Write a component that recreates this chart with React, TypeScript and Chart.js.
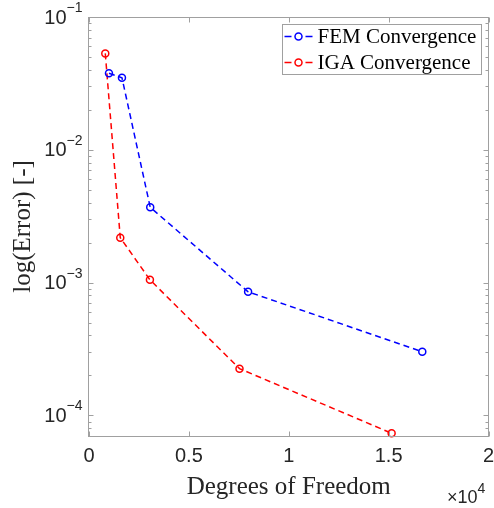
import React, { useEffect, useRef } from 'react';
import { Chart, registerables } from 'chart.js';

Chart.register(...registerables);

// ---- data ----
const seriesNames = ['FEM Convergence', 'IGA Convergence'];
const femDof = [1000, 1650, 3065, 7965, 16685];
const femError = [0.0377, 0.0349, 0.00369, 8.53e-4, 3.02e-4];
const igaDof = [815, 1565, 3050, 7535, 15150];
const igaError = [0.0532, 0.00218, 1.05e-3, 2.25e-4, 7.34e-5];
const xTicks = [0, 5000, 10000, 15000, 20000];
const xScaleFactor = 1e4;
const yMin = 7.34e-5;
const yMax = 0.1;
const yDecades = [-5, -4, -3, -2, -1];

const AXIS_COLOR = '#a0a0a0';
const TEXT_COLOR = '#262626';
const SANS = '"Liberation Sans", Arial, sans-serif';
const SERIF = '"Liberation Serif", "Times New Roman", serif';

const toPoints = (xs: number[], ys: number[]) => xs.map((x, i) => ({ x, y: ys[i] }));

const matlabAxes = {
  id: 'matlabAxes',
  afterDraw(chart: any) {
    const { ctx, chartArea } = chart;
    const { left, right, top, bottom } = chartArea;
    const xs = chart.scales.x;
    const ys = chart.scales.y;
    ctx.save();
    // box
    ctx.strokeStyle = AXIS_COLOR;
    ctx.lineWidth = 1;
    ctx.setLineDash([]);
    const L = Math.round(left) - 0.5;
    const R = Math.round(right) - 0.5;
    const T = Math.round(top) + 0.5;
    const B = Math.round(bottom) + 0.5;
    ctx.strokeRect(L, T, R - L, B - T);
    // ticks (inside, both sides)
    ctx.beginPath();
    ys.ticks.forEach((t: any) => {
      const p = Math.round(ys.getPixelForValue(t.value)) + 0.5;
      const len = t.major ? 5 : 3;
      ctx.moveTo(L, p); ctx.lineTo(L + len, p);
      ctx.moveTo(R, p); ctx.lineTo(R - len, p);
    });
    xs.ticks.forEach((t: any) => {
      const p = Math.round(xs.getPixelForValue(t.value)) + 0.5;
      ctx.moveTo(p, B); ctx.lineTo(p, B - 5);
      ctx.moveTo(p, T); ctx.lineTo(p, T + 5);
    });
    ctx.stroke();

    // y tick labels 10^k
    ctx.fillStyle = TEXT_COLOR;
    ys.ticks.forEach((t: any) => {
      if (!t.major) return;
      const exp = Math.round(Math.log10(t.value));
      const p = ys.getPixelForValue(t.value);
      const sup = String(exp).replace('-', '\u2212');
      ctx.font = `14px ${SANS}`;
      const sw = ctx.measureText(sup).width;
      const xr = L - 6;
      ctx.textAlign = 'left';
      ctx.textBaseline = 'alphabetic';
      ctx.fillText(sup, xr - sw, p - 5);
      ctx.font = `20px ${SANS}`;
      ctx.textAlign = 'right';
      ctx.textBaseline = 'middle';
      ctx.fillText('10', xr - sw, p + 1);
    });

    // x exponent label
    ctx.font = `18px ${SANS}`;
    ctx.textAlign = 'right';
    ctx.textBaseline = 'alphabetic';
    ctx.fillText('\u00d710', R - 11, B + 66);
    ctx.font = `14px ${SANS}`;
    ctx.textAlign = 'left';
    ctx.fillText(String(Math.round(Math.log10(xScaleFactor))), R - 11, B + 56);

    // legend
    const lx = Math.round(right) - 206.5;
    const ly = Math.round(top) + 7.5;
    const lw = 199;
    const lh = 50;
    ctx.fillStyle = '#ffffff';
    ctx.fillRect(lx, ly, lw, lh);
    ctx.strokeStyle = AXIS_COLOR;
    ctx.strokeRect(lx, ly, lw, lh);
    chart.data.datasets.forEach((ds: any, i: number) => {
      const cy = ly + 12 + i * 26;
      const mx = lx + 16;
      ctx.strokeStyle = ds.borderColor;
      ctx.lineWidth = 1.5;
      ctx.beginPath();
      ctx.moveTo(lx + 2, cy); ctx.lineTo(mx - 7, cy);
      ctx.moveTo(mx + 7, cy); ctx.lineTo(mx + 14, cy);
      ctx.stroke();
      ctx.beginPath();
      ctx.arc(mx, cy, 3.5, 0, Math.PI * 2);
      ctx.stroke();
      ctx.fillStyle = '#000000';
      ctx.font = `21px ${SERIF}`;
      ctx.textAlign = 'left';
      ctx.textBaseline = 'middle';
      ctx.fillText(ds.label, lx + 35, cy + 1);
    });
    ctx.restore();
  },
};

export default function App() {
  const ref = useRef<HTMLCanvasElement | null>(null);
  useEffect(() => {
    if (!ref.current) return;
    const common = {
      showLine: true,
      borderWidth: 1.5,
      borderDash: [6, 4],
      pointRadius: 3.5,
      pointBorderWidth: 1.5,
      pointBackgroundColor: 'rgba(0,0,0,0)',
      pointStyle: 'circle',
      tension: 0,
      clip: false as any,
      fill: false,
    };
    const chart = new Chart(ref.current, {
      type: 'line',
      data: {
        datasets: [
          { ...common, label: seriesNames[0], data: toPoints(femDof, femError), borderColor: '#0000ff', pointBorderColor: '#0000ff' },
          { ...common, label: seriesNames[1], data: toPoints(igaDof, igaError), borderColor: '#ff0000', pointBorderColor: '#ff0000' },
        ],
      },
      options: {
        responsive: false,
        animation: false,
        layout: { padding: { top: 17, right: 5, left: 0, bottom: 0 } },
        plugins: { legend: { display: false }, tooltip: { enabled: false } },
        scales: {
          x: {
            type: 'linear',
            min: xTicks[0],
            max: xTicks[xTicks.length - 1],
            grid: { display: false, drawTicks: false },
            border: { display: false },
            afterBuildTicks: (s: any) => { s.ticks = xTicks.map((v) => ({ value: v })); },
            afterFit: (s: any) => { s.height = 72; s.paddingLeft = 0; s.paddingRight = 0; },
            ticks: {
              padding: 8,
              color: TEXT_COLOR,
              font: { family: SANS, size: 20 },
              maxRotation: 0,
              autoSkip: false,
              callback: (v: any) => String(Number(v) / xScaleFactor),
            },
            title: {
              display: true,
              text: 'Degrees of Freedom',
              color: TEXT_COLOR,
              font: { family: SERIF, size: 25 },
              padding: { top: 0, bottom: 6 },
            },
          },
          y: {
            type: 'logarithmic',
            min: yMin,
            max: yMax,
            grid: { display: false, drawTicks: false },
            border: { display: false },
            afterBuildTicks: (s: any) => {
              const t: any[] = [];
              yDecades.forEach((k) => {
                for (let m = 1; m <= 9; m++) {
                  const v = m * Math.pow(10, k);
                  if (v >= yMin * 0.9999 && v <= yMax * 1.0001) t.push({ value: v, major: m === 1 });
                }
              });
              s.ticks = t;
            },
            afterFit: (s: any) => { s.width = 89; s.paddingTop = 0; s.paddingBottom = 0; },
            ticks: { display: false },
            title: {
              display: true,
              text: 'log(Error) [-]',
              color: TEXT_COLOR,
              font: { family: SERIF, size: 25 },
              padding: { top: 8, bottom: 0 },
            },
          },
        },
      },
      plugins: [matlabAxes],
    });
    return () => chart.destroy();
  }, []);
  return (
    <div style={{ position: 'absolute', left: 0, top: 0, width: 494, height: 508, background: '#fff' }}>
      <canvas ref={ref} width={494} height={508} style={{ display: 'block' }} />
    </div>
  );
}
